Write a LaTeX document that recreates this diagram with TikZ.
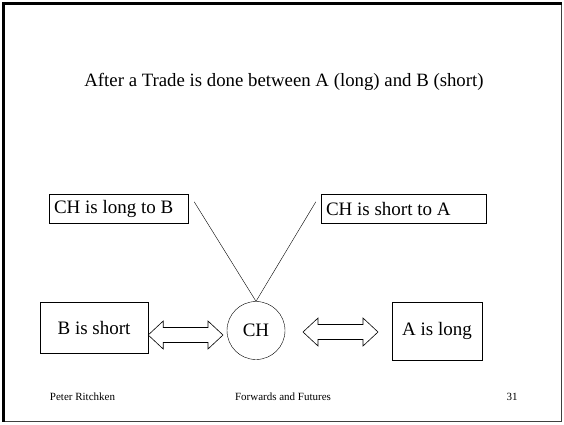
\documentclass[tikz,border=0pt]{standalone}
\usepackage{fontspec}
\setmainfont{Liberation Serif}
\usetikzlibrary{calc}
\tikzset{
 box/.style={draw,shape=rectangle,inner sep=0pt,font=\fontsize{19}{22}\selectfont},
 tag/.style={box,inner xsep=5pt,minimum height=29pt},
 hub/.style={draw,shape=circle,inner sep=0pt,minimum size=58pt,font=\fontsize{19}{22}\selectfont},
 foot/.style={font=\fontsize{11}{13}\selectfont},
 fat/.style={draw,line width=0.6pt,line join=miter}
}
% double headed block arrow between two anchors
\newcommand\fatarrow[2]{%
\path[fat] let \p1=(#1), \p2=(#2) in
 (\x1,\y1) -- ++(15pt,14pt) -- ++(0,-6.5pt) -- (\x2-15pt,\y1+7.5pt) -- ++(0,6.5pt)
 -- (\x2,\y1) -- ++(-15pt,-14pt) -- ++(0,6.5pt) -- (\x1+15pt,\y1-7.5pt) -- ++(0,-6.5pt) -- cycle;}
\newcommand\lefttext[2]{\makebox[#1][l]{#2}}

\begin{document}
\begin{tikzpicture}[x=1pt,y=-1pt]
\useasboundingbox (0,0) rectangle (564,424);
\draw[line width=1.5pt,black!75] (3.5,3.5) rectangle (561.5,421.5);
\draw[line width=3.2pt] (3.5,421.5) -- (3.5,3.5) -- (561.5,3.5);

\path (284,82) node[name=title,font=\fontsize{18.8}{22}\selectfont] {After a Trade is done between A (long) and B (short)};

\path (118.5,208.5) node[name=longB,tag] {\lefttext{129pt}{CH is long to B}};
\path (403.5,208.5) node[name=shortA,tag] {\lefttext{155pt}{CH is short to A}};

\path (94,327.5) node[name=bshort,box,minimum width=108pt,minimum height=51pt] {B is short};
\path (256,330.5) node[name=ch,hub] {CH};
\path (437,331) node[name=along,box,minimum width=90pt,minimum height=58pt] {A is long};

%\path (longB) edge (ch);
\coordinate (vl) at ($(longB.north east)+(6,8)$);
\coordinate (vr) at ($(shortA.north west)+(-5,8)$);
\path (vl) edge (ch.north);
\path (vr) edge (ch.north);

\coordinate (al) at (bshort.east |- 0,335);
\coordinate (ar) at (223,335);
\fatarrow{al}{ar}
\coordinate (bl) at (303,332);
\coordinate (br) at (378,332);
\fatarrow{bl}{br}

\path (82.5,397) node[name=auth,foot] {Peter Ritchken};
\path (283,397) node[name=course,foot] {Forwards and Futures};
\path (512,397) node[name=page,foot] {31};
\end{tikzpicture}
\end{document}
